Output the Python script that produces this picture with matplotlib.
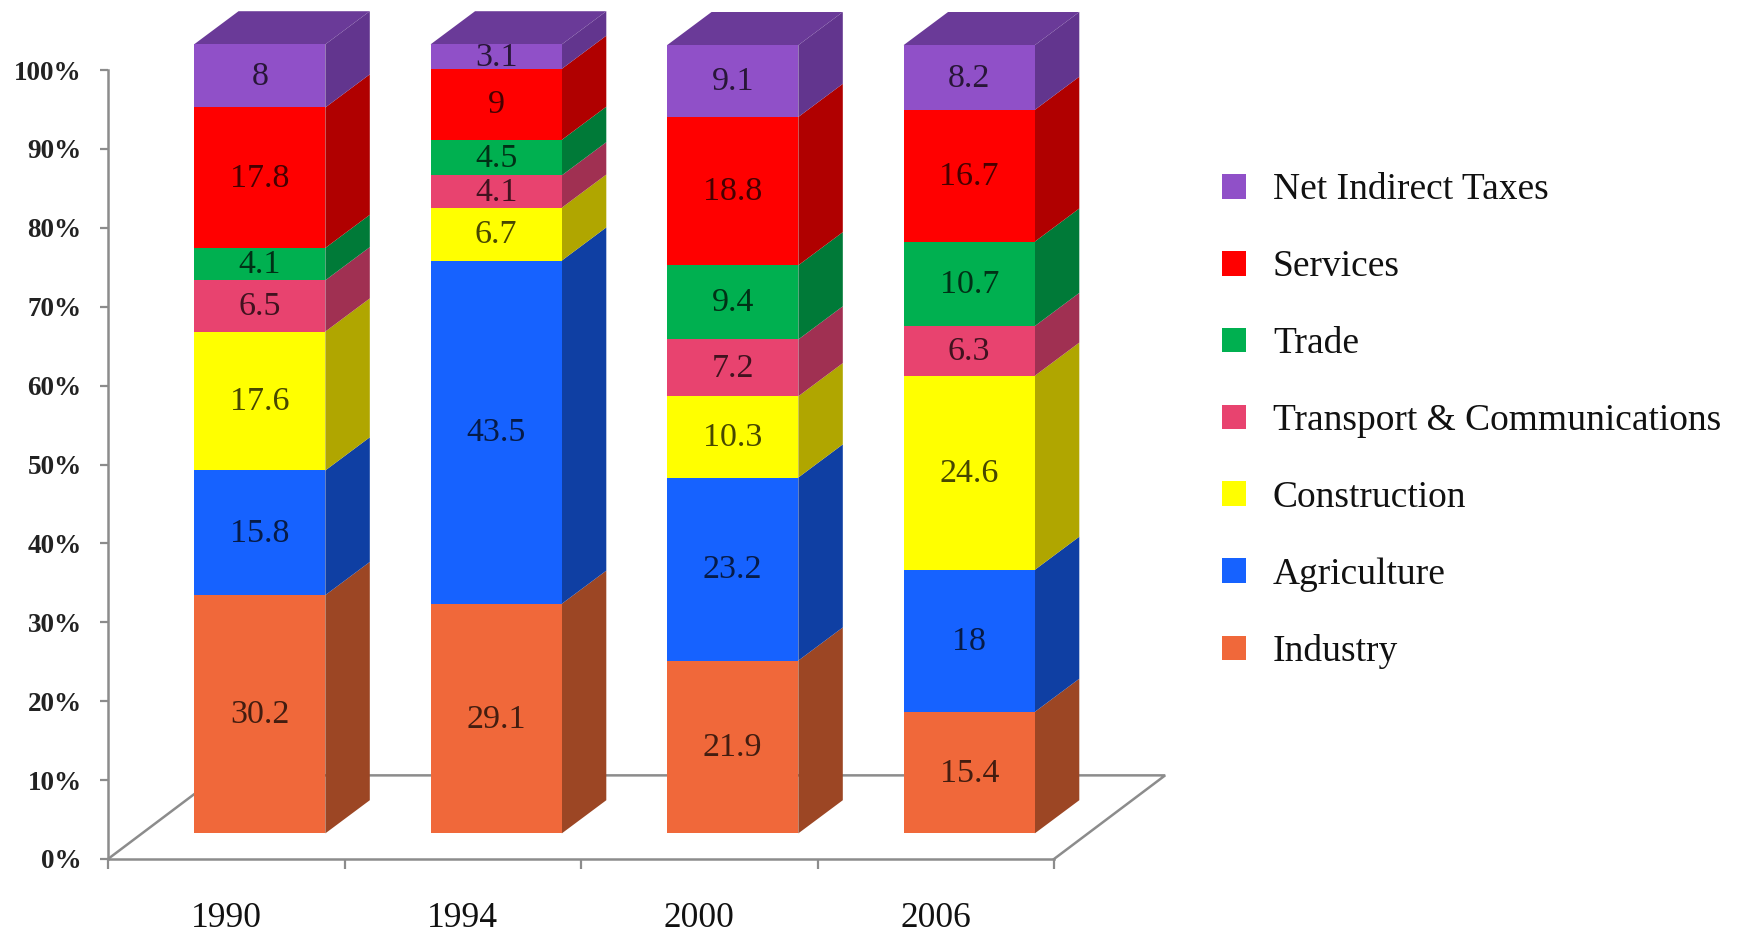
import matplotlib
matplotlib.use('Agg')
import matplotlib.pyplot as plt
from matplotlib.patches import Patch
import numpy as np

# data, bottom of the stack first
years = ['1990', '1994', '2000', '2006']
sectors = ['Industry', 'Agriculture', 'Construction', 'Transport & Communications',
           'Trade', 'Services', 'Net Indirect Taxes']
industry = [30.2, 29.1, 21.9, 15.4]
agriculture = [15.8, 43.5, 23.2, 18]
construction = [17.6, 6.7, 10.3, 24.6]
transport = [6.5, 4.1, 7.2, 6.3]
trade = [4.1, 4.5, 9.4, 10.7]
services = [17.8, 9, 18.8, 16.7]
taxes = [8, 3.1, 9.1, 8.2]
y_ticks = [0, 10, 20, 30, 40, 50, 60, 70, 80, 90, 100]

front_colors = ['#F0683A', '#1662FF', '#FFFF00', '#E8436F', '#00B050', '#FF0000', '#9050C8']
side_colors = ['#9C4624', '#0F3FA3', '#B0A600', '#A03052', '#007A38', '#B00000', '#62358E']
top_color = '#6A3A98'

plt.rcParams['font.family'] = ['Liberation Serif', 'DejaVu Serif']

# one axes over the whole figure, 0% and the first tick at the axis corner
px_x = 236.5
px_y = 7.89
fig = plt.figure(figsize=(17.44, 9.35), dpi=100)
ax = fig.add_axes([0, 0, 1, 1])
ax.set_xlim(-108 / px_x, (1744 - 108) / px_x)
ax.set_ylim(-(935 - 859) / px_y, 859 / px_y)

# 3d look
bar_left = 0.364
bar_width = 0.555
lift = 3.25
depth_x = 0.188
depth_y = 4.2
floor_x = 0.47
floor_y = 10.6

n_groups = len(years)
grey = '#8C8C8C'
ax.plot([0, floor_x, n_groups + floor_x, n_groups], [0, floor_y, floor_y, 0],
        color=grey, lw=1.8, zorder=1, solid_joinstyle='miter')

series = [industry, agriculture, construction, transport, trade, services, taxes]
bottoms = np.zeros(n_groups)
for vals, front, side in zip(series, front_colors, side_colors):
    vals = np.array(vals, dtype=float)
    xs = np.arange(n_groups) + bar_left
    ys = bottoms + lift
    ax.bar(xs, vals, bar_width, bottom=ys, align='edge', color=front, zorder=3)
    for x, y, v in zip(xs, ys, vals):
        xr = x + bar_width
        ax.fill([xr, xr + depth_x, xr + depth_x, xr],
                [y, y + depth_y, y + v + depth_y, y + v], color=side, lw=0, zorder=2)
        ax.text(x + bar_width / 2, y + v / 2 - 0.1, '%g' % v, ha='center', va='center',
                fontsize=24.5, color='black', alpha=0.72, zorder=4)
    bottoms = bottoms + vals

# top faces
for i in range(n_groups):
    x = i + bar_left
    y = bottoms[i] + lift
    ax.fill([x, x + depth_x, x + bar_width + depth_x, x + bar_width],
            [y, y + depth_y, y + depth_y, y], color=top_color, lw=0, zorder=2)

# axes lines and ticks
for s in ['top', 'right']:
    ax.spines[s].set_visible(False)
ax.spines['left'].set_position(('data', 0))
ax.spines['bottom'].set_position(('data', 0))
ax.spines['left'].set_bounds(0, 100)
ax.spines['bottom'].set_bounds(0, n_groups)
ax.spines['left'].set_color(grey)
ax.spines['bottom'].set_color(grey)
ax.spines['left'].set_linewidth(1.8)
ax.spines['bottom'].set_linewidth(1.8)

ax.set_yticks(y_ticks)
ax.set_yticklabels(['%d%%' % t for t in y_ticks], fontsize=19.5, fontweight='bold', color='#222222')
ax.tick_params(axis='y', length=6, width=1.6, color=grey, pad=13)
ax.set_xticks(np.arange(n_groups + 1))
ax.set_xticklabels([])
ax.tick_params(axis='x', which='major', length=7, width=1.6, color=grey)
ax.set_xticks(np.arange(n_groups) + 0.5, minor=True)
ax.set_xticklabels(years, minor=True, fontsize=25.5, color='#111111')
ax.tick_params(axis='x', which='minor', length=0, pad=31)

handles = [Patch(facecolor=c, edgecolor='none') for c in front_colors[::-1]]
ax.legend(handles, sectors[::-1], loc='center left', bbox_to_anchor=(4.71, 55.5),
          bbox_transform=ax.transData, frameon=False, fontsize=27, labelcolor='#111111',
          handlelength=0.64, handleheight=0.64, handletextpad=0.72, labelspacing=1.13,
          borderpad=0, borderaxespad=0)

plt.savefig('out.png', dpi=100)
